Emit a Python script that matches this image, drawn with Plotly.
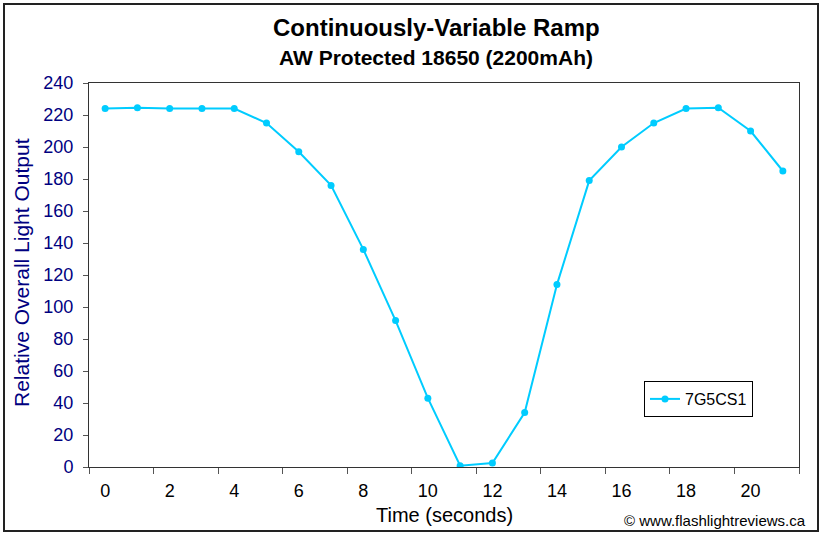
import plotly.graph_objects as go

# ---- data ----
time_s = list(range(22))
output_7g5cs1 = [224, 224.5, 224, 224, 224, 215, 197, 176, 136, 91.5, 43, 0.8,
                 2.5, 34, 114, 179, 200, 215, 224, 224.5, 210, 185]
x_tick_vals = [0, 2, 4, 6, 8, 10, 12, 14, 16, 18, 20]
x_tick_text = ["0", "2", "4", "6", "8", "10", "12", "14", "16", "18", "20"]
y_tick_vals = list(range(0, 241, 20))
series_name = "7G5CS1"

W, H = 822, 535
L, R, T, B = 89, 799, 83, 467   # plot area in pixels


def px(x):
    return (x - L) / (R - L)


def py(y):
    return (B - y) / (B - T)


FONT = "Liberation Sans, Arial, sans-serif"
NAVY = "#000080"
LINE = "#00CCFF"

fig = go.Figure()
fig.add_trace(go.Scatter(
    x=time_s, y=output_7g5cs1, name=series_name, mode="lines+markers",
    line=dict(color=LINE, width=2),
    marker=dict(color=LINE, size=7, symbol="circle"),
))

fig.update_layout(
    width=W, height=H,
    margin=dict(l=L, r=W - R, t=T, b=H - B, pad=0),
    paper_bgcolor="white", plot_bgcolor="white",
    font=dict(family=FONT, size=17, color="black"),
    showlegend=True,
    legend=dict(x=px(644), y=py(381), xanchor="left", yanchor="top",
                bordercolor="black", borderwidth=1, bgcolor="white",
                font=dict(size=16, color="black"),
                itemwidth=30, tracegroupgap=0),
    xaxis=dict(range=[-0.5, 21.5], tickmode="array", tickvals=x_tick_vals,
               ticktext=x_tick_text, ticks="", showgrid=False, zeroline=False,
               showline=True, linecolor="#333333", linewidth=1, mirror=True,
               tickfont=dict(size=18, color="black"), ticklabelstandoff=7,
               minor=dict(tickvals=[v - 0.5 for v in range(0, 23, 2)],
                          ticks="outside", ticklen=6, tickcolor="#555555",
                          tickwidth=1, showgrid=False)),
    yaxis=dict(range=[0, 240], tickmode="array", tickvals=y_tick_vals,
               ticks="outside", ticklen=5, tickcolor="#555555", showgrid=False,
               zeroline=False, showline=True, linecolor="#333333", linewidth=1,
               mirror=True, tickfont=dict(size=18, color=NAVY),
               ticklabelstandoff=6),
)

ann = [
    dict(text="<b>Continuously-Variable Ramp</b>", x=px(436), y=py(28),
         font=dict(size=24, color="black")),
    dict(text="<b>AW Protected 18650 (2200mAh)</b>", x=px(436), y=py(58),
         font=dict(size=21, color="black")),
    dict(text="Relative Overall Light Output", x=px(21), y=py(273),
         textangle=-90, font=dict(size=21, color=NAVY)),
    dict(text="Time (seconds)", x=px(444), y=py(515),
         font=dict(size=20, color="black")),
    dict(text="© www.flashlightreviews.ca", x=px(808), y=py(520),
         xanchor="right", font=dict(size=15, color="black")),
]
for a in ann:
    a.setdefault("xanchor", "center")
    fig.add_annotation(xref="paper", yref="paper", showarrow=False,
                       yanchor="middle", **a)

fig.add_shape(type="rect", xref="paper", yref="paper",
              x0=px(4), x1=px(818), y0=py(531), y1=py(4),
              line=dict(color="#222222", width=2), layer="below")

fig.write_html("out.html",
               config={"displayModeBar": False},
               post_script="document.body.style.margin='0';"
                           "document.body.style.overflow='hidden';")
